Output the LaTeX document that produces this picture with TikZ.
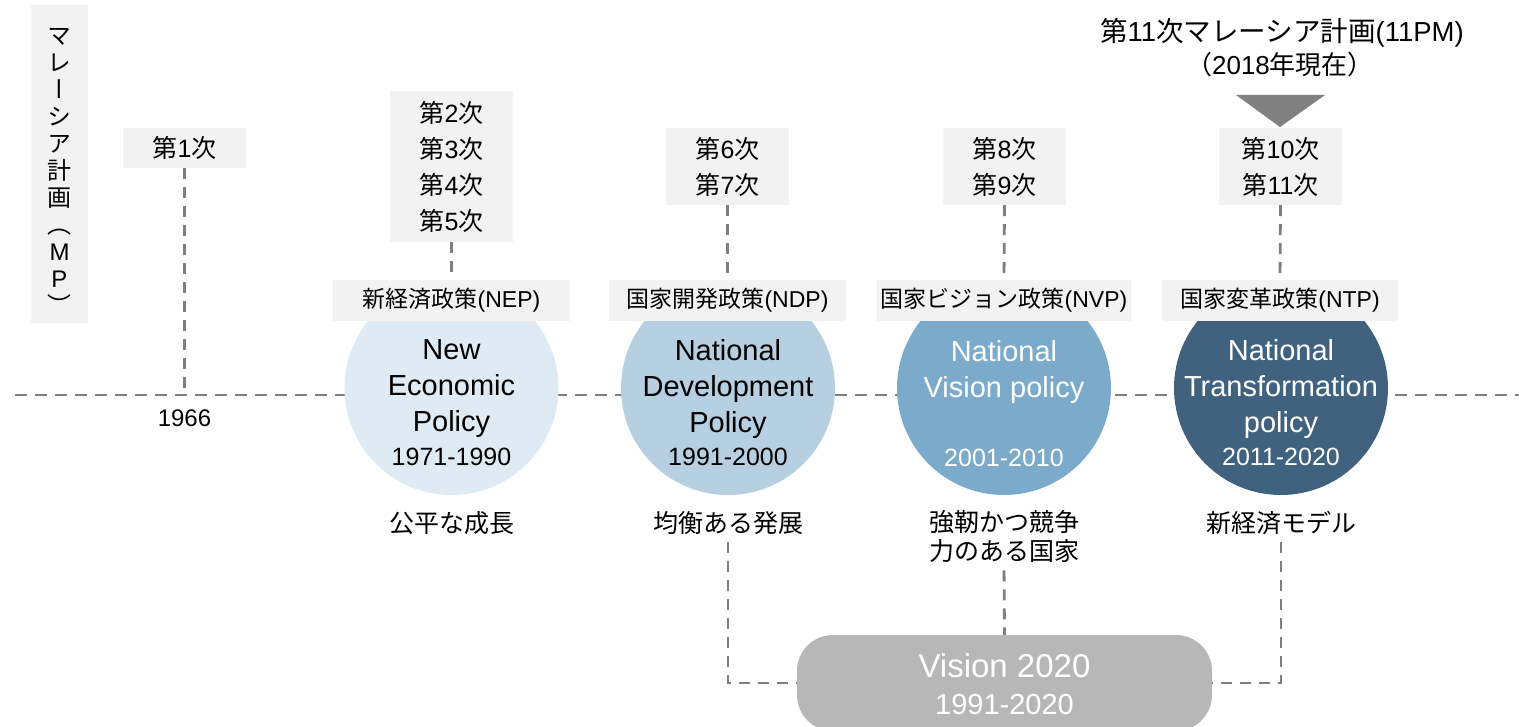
\documentclass[tikz,border=0pt]{standalone}
\usepackage{fontspec}
\setmainfont{Liberation Sans}
\newfontfamily\jp{Noto Sans CJK JP}
\newfontfamily\jpv[RawFeature=+vert]{Noto Sans CJK JP}
\newcommand\J[1]{{\jp #1}}
\newcommand\fsz[2]{\fontsize{#1}{#2}\selectfont}
\definecolor{dashgray}{RGB}{127,127,127}
\definecolor{boxgray}{RGB}{242,242,242}
\definecolor{cNEP}{RGB}{222,235,244}
\definecolor{cNDP}{RGB}{182,208,225}
\definecolor{cNVP}{RGB}{123,170,203}
\definecolor{cNTP}{RGB}{64,98,127}
\definecolor{visgray}{RGB}{183,183,183}
\definecolor{trigray}{RGB}{128,128,128}
\begin{document}
\begin{tikzpicture}[x=1pt,y=-1pt,
  conn/.style={draw=dashgray, line width=2.8pt, dash pattern=on 11pt off 8pt},
  tline/.style={draw=dashgray, line width=2.9pt, dash pattern=on 12pt off 8pt},
  tierbox/.style={fill=boxgray, minimum width=123pt, inner sep=0, align=center, font=\fsz{25}{36}},
  lblbox/.style={fill=boxgray, minimum height=41pt, inner sep=0, font=\fsz{23}{28}},
  circ/.style={circle, minimum size=214pt, inner sep=0},
  ttl/.style={font=\fsz{29}{36}, align=center, inner sep=0},
  yr/.style={font=\fsz{25}{30}, inner sep=0},
  capnode/.style={font=\jp\fsz{25}{29}, align=center, inner sep=0}]
\useasboundingbox (0,0) rectangle (1519,727);
\clip (0,0) rectangle (1519,727);
% timeline
\coordinate (tlL) at (15,395);
\coordinate (tlR) at (1519,395);
\draw[tline] (tlL) -- (tlR);
% MP label
\node[fill=boxgray, minimum width=57, minimum height=318, inner sep=0] (mpbox) at (59.5,164) {};
\node[font=\jpv\fsz{24}{27}, align=center, inner sep=0] (mptext) at (59.5,171)
  {マ\\レ\\ー\\シ\\ア\\計\\画\\︵\\{\rmfamily M}\\{\rmfamily P}\\︶};
% circles
\node[circ, fill=cNEP] (c2) at (451.5,388) {};
\node[circ, fill=cNDP] (c3) at (728,388) {};
\node[circ, fill=cNVP] (c4) at (1004,388) {};
\node[circ, fill=cNTP] (c5) at (1281,388) {};
\node[ttl] (n2) at (451.5,389) {New\\Economic\\Policy};
\node[yr] (y2) at (451.5,457) {1971-1990};
\node[ttl] (n3) at (728,389) {National\\Development\\Policy};
\node[yr] (y3) at (728,457) {1991-2000};
\node[ttl, text=white] (n4) at (1004,372) {National\\Vision policy};
\node[yr, text=white] (y4) at (1004,458) {2001-2010};
\node[ttl, text=white] (n5) at (1281,389) {National\\Transformation\\policy};
\node[yr, text=white] (y5) at (1281,457) {2011-2020};
% tier boxes
\node[tierbox, minimum height=40] (t1) at (184.5,148) {\J{第}1\J{次}};
\node[tierbox, minimum height=151] (t2) at (451.5,166.5) {\J{第}2\J{次}\\\J{第}3\J{次}\\\J{第}4\J{次}\\\J{第}5\J{次}};
\node[tierbox, minimum height=77] (t3) at (727.5,166.5) {\J{第}6\J{次}\\\J{第}7\J{次}};
\node[tierbox, minimum height=77] (t4) at (1004.5,166.5) {\J{第}8\J{次}\\\J{第}9\J{次}};
\node[tierbox, minimum height=77] (t5) at (1280.5,166.5) {\J{第}10\J{次}\\\J{第}11\J{次}};
% label boxes
\node[lblbox, minimum width=237] (l2) at (451.5,300.5) {\J{新経済政策}(NEP)};
\node[lblbox, minimum width=237] (l3) at (727.5,300.5) {\J{国家開発政策}(NDP)};
\node[lblbox, minimum width=254] (l4) at (1004,300.5) {\J{国家ビジョン政策}(NVP)};
\node[lblbox, minimum width=236] (l5) at (1280,300.5) {\J{国家変革政策}(NTP)};
% captions
\node[capnode] (k2) at (451.5,523) {公平な成長};
\node[capnode] (k3) at (728,523) {均衡ある発展};
\node[capnode] (k4) at (1004,537) {強靭かつ競争\\力のある国家};
\node[capnode] (k5) at (1281,523) {新経済モデル};
% 1966
\node[font=\fsz{24}{28}, inner sep=0] (yr66) at (184.5,418) {1966};
\coordinate (y66) at (184.5,395);
% title
\node[font=\fsz{27.5}{32}, inner sep=0] (ttl11) at (1282,33) {\J{第}11\J{次マレーシア計画}(11PM)};
\node[font=\fsz{26}{32}, inner sep=0] (ttl18) at (1280,65) {\J{（}2018\J{年現在）}};
\fill[trigray] (1236,95) -- (1325,95) -- (1280,127) -- cycle;
% vision 2020
\node[rounded corners=36, fill=visgray, minimum width=415, minimum height=96, inner sep=0] (vis) at (1004.5,683) {};
\node[font=\fsz{33}{40}, text=white, inner sep=0] (vt) at (1004.5,666) {Vision 2020};
\node[font=\fsz{29}{34}, text=white, inner sep=0] (vy) at (1004.5,705) {1991-2020};
% connectors
\draw[conn] (t1.south) -- (y66);
\draw[conn] (t2.south) -- (l2.north);
\draw[conn] (t3.south) -- (l3.north);
\draw[conn] (t4.south) -- (l4.north);
\draw[conn] (t5.south) -- (l5.north);
\draw[conn, shorten <=7pt] (k3.south) |- (vis.west);
\draw[conn, shorten <=7pt] (k5.south) |- (vis.east);
\draw[conn, shorten <=7pt] (k4.south) -- (vis.north);
\end{tikzpicture}
\end{document}
